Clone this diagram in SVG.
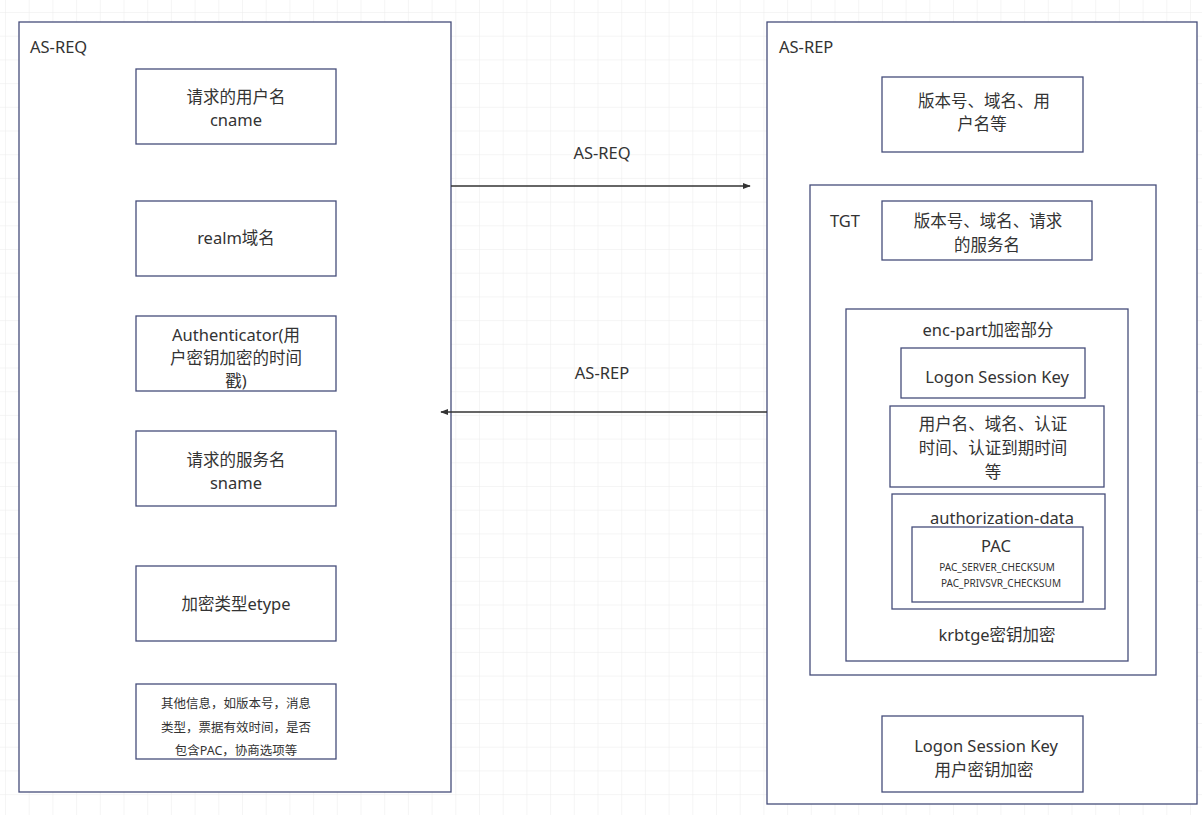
<svg xmlns="http://www.w3.org/2000/svg" width="1202" height="815" viewBox="0 0 1202 815">
<defs>
<pattern id="grid" x="5" y="12" width="23.7" height="23.7" patternUnits="userSpaceOnUse">
<path d="M 23.7 0 L 0 0 0 23.7" fill="none" stroke="#ebebeb" stroke-width="1"/>
</pattern>
<marker id="arr" viewBox="0 0 10 10" refX="9" refY="5" markerWidth="8" markerHeight="8" markerUnits="userSpaceOnUse" orient="auto">
<path d="M0,1 L10,5 L0,9 Z" fill="#333"/>
</marker>
<style>
.box{fill:#fff;stroke:#454d7a;stroke-width:1.3}
.t{font-family:"Noto Sans","Noto Sans CJK SC",sans-serif;font-size:16.5px;fill:#333;text-anchor:middle}
.s{font-size:12.5px}
.xs{font-size:10px}
.l{text-anchor:start}
.edge{stroke:#333;stroke-width:1.3;fill:none}
</style>
</defs>
<rect width="1202" height="815" fill="#fff"/>
<rect width="1202" height="815" fill="url(#grid)"/>

<g id="as-req">
<rect class="box" x="19" y="22" width="432" height="770"/>
<text class="t l" x="30" y="53">AS-REQ</text>
</g>
<g id="cname">
<rect class="box" x="136" y="69" width="200" height="75"/>
<text class="t" x="236" y="103">请求的用户名</text>
<text class="t" x="236" y="126">cname</text>
</g>
<g id="realm">
<rect class="box" x="136" y="201" width="200" height="75"/>
<text class="t" x="236" y="244">realm域名</text>
</g>
<g id="authenticator">
<rect class="box" x="136" y="316" width="200" height="75"/>
<text class="t" x="236" y="341">Authenticator(用</text>
<text class="t" x="236" y="364">户密钥加密的时间</text>
<text class="t" x="236" y="387">戳)</text>
</g>
<g id="sname">
<rect class="box" x="136" y="431" width="200" height="75"/>
<text class="t" x="236" y="466">请求的服务名</text>
<text class="t" x="236" y="489">sname</text>
</g>
<g id="etype">
<rect class="box" x="136" y="566" width="200" height="75"/>
<text class="t" x="236" y="610">加密类型etype</text>
</g>
<g id="other">
<rect class="box" x="136" y="684" width="200" height="75"/>
<text class="t s" x="236" y="708">其他信息，如版本号，消息</text>
<text class="t s" x="236" y="732">类型，票据有效时间，是否</text>
<text class="t s" x="236" y="755">包含PAC，协商选项等</text>
</g>

<g id="as-rep">
<rect class="box" x="767" y="22" width="430" height="782"/>
<text class="t l" x="779" y="53">AS-REP</text>
</g>
<g id="rep-header">
<rect class="box" x="882" y="77" width="201" height="75"/>
<text class="t" x="984" y="107">版本号、域名、用</text>
<text class="t" x="982" y="130">户名等</text>
</g>
<g id="tgt">
<rect class="box" x="810" y="185" width="346" height="490"/>
<text class="t l" x="830" y="227">TGT</text>
</g>
<g id="tgt-header">
<rect class="box" x="882" y="201" width="210" height="59"/>
<text class="t" x="988" y="227">版本号、域名、请求</text>
<text class="t" x="987" y="251">的服务名</text>
</g>
<g id="enc-part">
<rect class="box" x="846" y="309" width="282" height="352"/>
<text class="t" x="988" y="336">enc-part加密部分</text>
<text class="t" x="997" y="641">krbtge密钥加密</text>
</g>
<g id="logon-key">
<rect class="box" x="901" y="348" width="184" height="50"/>
<text class="t" x="997" y="383">Logon Session Key</text>
</g>
<g id="user-info">
<rect class="box" x="890" y="406" width="214" height="81"/>
<text class="t" x="993" y="430">用户名、域名、认证</text>
<text class="t" x="993" y="454">时间、认证到期时间</text>
<text class="t" x="993" y="478">等</text>
</g>
<g id="authorization-data">
<rect class="box" x="892" y="494" width="213" height="115"/>
<text class="t" x="1002" y="524">authorization-data</text>
</g>
<g id="pac">
<rect class="box" x="912" y="527" width="171" height="75"/>
<text class="t" x="996" y="552">PAC</text>
<text class="t xs" x="997" y="571">PAC_SERVER_CHECKSUM</text>
<text class="t xs" x="1001" y="587">PAC_PRIVSVR_CHECKSUM</text>
</g>
<g id="rep-logon-key">
<rect class="box" x="882" y="716" width="201" height="76"/>
<text class="t" x="986" y="752">Logon Session Key</text>
<text class="t" x="984" y="776">用户密钥加密</text>
</g>

<g id="connectors">
<line class="edge" x1="451" y1="186" x2="750" y2="186" marker-end="url(#arr)"/>
<text class="t" x="602" y="159">AS-REQ</text>
<line class="edge" x1="767" y1="412" x2="441" y2="412" marker-end="url(#arr)"/>
<text class="t" x="602" y="379">AS-REP</text>
</g>
</svg>
